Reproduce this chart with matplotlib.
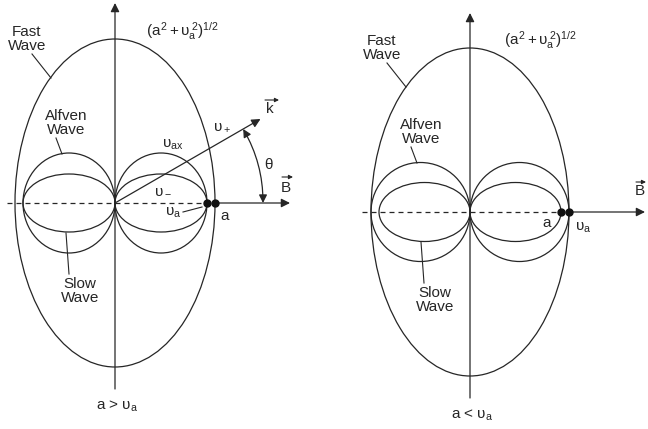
import matplotlib.pyplot as plt
from matplotlib.patches import Ellipse, FancyArrowPatch
import numpy as np

plt.rcParams['font.family'] = ['Liberation Sans', 'DejaVu Sans']
plt.rcParams['mathtext.fontset'] = 'custom'
plt.rcParams['mathtext.rm'] = 'Liberation Sans'
plt.rcParams['mathtext.it'] = 'Liberation Sans'
plt.rcParams['mathtext.bf'] = 'Liberation Sans'

# phase speeds for the two cases (same arbitrary scale in both panels)
cases = ['a > υ$_a$', 'a < υ$_a$']
fast_par = [100, 99]       # fast wave along B
fast_perp = [164, 164]     # fast wave across B, (a^2 + va^2)^1/2
alfven_par = [92, 99]      # Alfven lobe length
alfven_perp = [100, 99]    # Alfven lobe height
slow_par = [92, 91]        # slow lobe length
slow_perp = [58, 59]       # slow lobe height
k_angle = 30               # wave vector direction, degrees from B
k_len = 168

ink = '#262626'
lw = 0.9
fs = 11

fig = plt.figure(figsize=(6.48, 4.29), dpi=100)
ax_l = fig.add_axes([0, 0, 0.5, 1])
ax_r = fig.add_axes([0.5, 0, 0.5, 1])
ax_l.set_xlim(-115, 209)
ax_l.set_ylim(-226, 203)
ax_r.set_xlim(-146, 178)
ax_r.set_ylim(-217, 212)


def arrow(ax, p0, p1, style='-|>', scale=13, width=lw):
    ax.add_patch(FancyArrowPatch(p0, p1, arrowstyle=style, mutation_scale=scale,
                                 lw=width, color=ink, shrinkA=0, shrinkB=0))


def vector_label(ax, x, y, name, y_bar, x0, x1):
    # letter with a small arrow drawn above it
    ax.text(x, y, name, fontsize=fs, ha='center', va='center', color=ink)
    arrow(ax, (x0, y_bar), (x1, y_bar), scale=6, width=0.8)


def leader(ax, p0, p1):
    ax.plot([p0[0], p1[0]], [p0[1], p1[1]], color=ink, lw=0.8)


def draw_panel(ax, i):
    ax.set_aspect('equal')
    ax.axis('off')
    # fast wave ellipse
    ax.add_patch(Ellipse((0, 0), 2 * fast_par[i], 2 * fast_perp[i],
                         fill=False, ec=ink, lw=lw))
    # Alfven and slow lobes, one on each side of the origin
    for s in (-1, 1):
        ax.add_patch(Ellipse((s * alfven_par[i] / 2, 0), alfven_par[i],
                             alfven_perp[i], fill=False, ec=ink, lw=lw))
        ax.add_patch(Ellipse((s * slow_par[i] / 2, 0), slow_par[i],
                             slow_perp[i], fill=False, ec=ink, lw=lw))
    # axes: vertical arrow, dashed B line, solid B arrow
    arrow(ax, (0, -186), (0, 200 if i == 0 else 199))
    ax.plot([-108, min(alfven_par[i], slow_par[i])], [0, 0], color=ink, lw=lw,
            dashes=(4, 3.2))
    arrow(ax, (fast_par[i], 0), (175, 0))
    # marker dots on the B axis
    dots = sorted(set([fast_par[i], alfven_par[i], slow_par[i]]))
    ax.plot(dots, [0] * len(dots), 'o', ms=5, color='#111111')

    ax.text(70 if i else 67, 172, r'$(a^2 + υ_a^{\,2})^{1/2}$', fontsize=fs,
            ha='center', va='center', color=ink)
    ax.text(-88, 164, 'Fast\nWave', fontsize=fs, ha='center', va='center',
            linespacing=0.95, color=ink)
    leader(ax, (-83, 149), (-64, 125))
    ax.text(-49, 80, 'Alfven\nWave', fontsize=fs, ha='center', va='center',
            linespacing=0.95, color=ink)
    leader(ax, (-59, 65), (-53, 49))
    ax.text(-35, -88, 'Slow\nWave', fontsize=fs, ha='center', va='center',
            linespacing=0.95, color=ink)
    leader(ax, (-46, -71), (-49, -30))
    ax.text(2, -203, cases[i], fontsize=fs, ha='center', va='center', color=ink)


draw_panel(ax_l, 0)
draw_panel(ax_r, 1)
vector_label(ax_l, 171, 15, 'B', 26, 167, 178)
vector_label(ax_r, 170, 21, 'B', 30, 166, 176)

# wave vector and angle on the left panel
th = np.radians(k_angle)
arrow(ax_l, (0, 0), (k_len * np.cos(th), k_len * np.sin(th)))
vector_label(ax_l, 155, 94, 'k', 103, 150, 164)
r_arc = 148
ax_l.add_patch(FancyArrowPatch((r_arc * np.cos(th), r_arc * np.sin(th)), (r_arc, 0),
                               arrowstyle='<|-|>', mutation_scale=12, lw=lw,
                               color=ink, shrinkA=0, shrinkB=0,
                               connectionstyle='arc3,rad=-0.134'))
ax_l.text(153, 38, 'θ', fontsize=fs, ha='center', va='center', color=ink)
ax_l.text(107, 76, r'$υ_+$', fontsize=fs, ha='center', va='center', color=ink)
ax_l.text(58, 58, r'$υ_{ax}$', fontsize=fs, ha='center', va='center', color=ink)
ax_l.text(48, 13, r'$υ_-$', fontsize=fs, ha='center', va='center', color=ink)
ax_l.text(58, -10, r'$υ_a$', fontsize=fs, ha='center', va='center', color=ink)
ax_l.plot([68, 87], [-9, -4], color=ink, lw=0.8)
ax_l.text(110, -13, 'a', fontsize=fs, ha='center', va='center', color=ink)

# speed labels on the right panel
ax_r.text(77, -11, 'a', fontsize=fs, ha='center', va='center', color=ink)
ax_r.text(113, -16, r'$υ_a$', fontsize=fs, ha='center', va='center', color=ink)

fig.savefig('out.png', dpi=100, facecolor='white')
